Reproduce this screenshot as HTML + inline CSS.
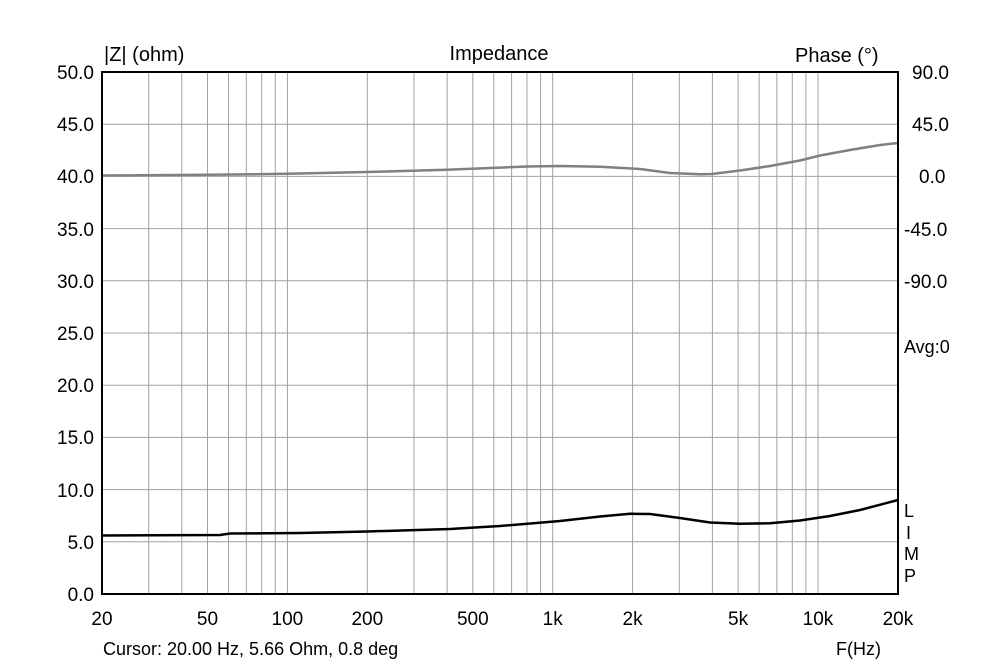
<!DOCTYPE html>
<html><head><meta charset="utf-8"><style>
html,body{margin:0;padding:0;background:#fff;}
svg{display:block;font-family:"Liberation Sans",Arial,sans-serif;}
</style></head><body>
<svg width="1000" height="666" viewBox="0 0 1000 666" xmlns="http://www.w3.org/2000/svg">
<rect width="1000" height="666" fill="#fff"/>
<g stroke="#a0a0a0" stroke-width="1">
<line x1="148.7" y1="72" x2="148.7" y2="594"/><line x1="181.8" y1="72" x2="181.8" y2="594"/>
<line x1="207.5" y1="72" x2="207.5" y2="594"/><line x1="228.5" y1="72" x2="228.5" y2="594"/>
<line x1="246.3" y1="72" x2="246.3" y2="594"/><line x1="261.7" y1="72" x2="261.7" y2="594"/>
<line x1="275.3" y1="72" x2="275.3" y2="594"/><line x1="287.4" y1="72" x2="287.4" y2="594"/>
<line x1="367.3" y1="72" x2="367.3" y2="594"/><line x1="414" y1="72" x2="414" y2="594"/>
<line x1="447.1" y1="72" x2="447.1" y2="594"/><line x1="472.8" y1="72" x2="472.8" y2="594"/>
<line x1="493.8" y1="72" x2="493.8" y2="594"/><line x1="511.6" y1="72" x2="511.6" y2="594"/>
<line x1="527" y1="72" x2="527" y2="594"/><line x1="540.6" y1="72" x2="540.6" y2="594"/>
<line x1="552.7" y1="72" x2="552.7" y2="594"/><line x1="632.6" y1="72" x2="632.6" y2="594"/>
<line x1="679.3" y1="72" x2="679.3" y2="594"/><line x1="712.4" y1="72" x2="712.4" y2="594"/>
<line x1="738.1" y1="72" x2="738.1" y2="594"/><line x1="759.1" y1="72" x2="759.1" y2="594"/>
<line x1="776.9" y1="72" x2="776.9" y2="594"/><line x1="792.3" y1="72" x2="792.3" y2="594"/>
<line x1="805.9" y1="72" x2="805.9" y2="594"/><line x1="818" y1="72" x2="818" y2="594"/>
<line x1="102" y1="124.2" x2="898" y2="124.2"/><line x1="102" y1="176.4" x2="898" y2="176.4"/>
<line x1="102" y1="228.6" x2="898" y2="228.6"/><line x1="102" y1="280.8" x2="898" y2="280.8"/>
<line x1="102" y1="333" x2="898" y2="333"/><line x1="102" y1="385.2" x2="898" y2="385.2"/>
<line x1="102" y1="437.4" x2="898" y2="437.4"/><line x1="102" y1="489.6" x2="898" y2="489.6"/>
<line x1="102" y1="541.8" x2="898" y2="541.8"/>
</g>
<path d="M102,175.5 L207,174.8 L287,173.8 L367,172 L447,169.8 L527,166.5 L560,166 L600,166.8 L640,169 L670,173 L700,174.2 L712,174 L740,170.5 L770,166 L800,160.5 L820,155.5 L850,150 L880,145 L898,143" fill="none" stroke="#808080" stroke-width="2.5"/>
<path d="M102,535.5 L220,535 L230,533.5 L300,533 L367,531.5 L450,529 L500,526 L560,521 L600,516.5 L630,513.8 L650,514 L680,518 L710,522.5 L740,523.8 L770,523.3 L800,520.5 L830,516 L860,510 L898,500" fill="none" stroke="#000" stroke-width="2.5"/>
<rect x="102" y="72" width="796" height="522" fill="none" stroke="#000" stroke-width="2"/>
<g font-size="19" fill="#000" text-anchor="end">
<text x="94" y="79">50.0</text><text x="94" y="131">45.0</text><text x="94" y="183">40.0</text>
<text x="94" y="236">35.0</text><text x="94" y="288">30.0</text><text x="94" y="340">25.0</text>
<text x="94" y="392">20.0</text><text x="94" y="444">15.0</text><text x="94" y="497">10.0</text>
<text x="94" y="549">5.0</text><text x="94" y="601">0.0</text>
</g>
<g font-size="19" fill="#000">
<text x="912" y="79">90.0</text><text x="912" y="131">45.0</text><text x="919" y="183">0.0</text>
<text x="904" y="236">-45.0</text><text x="904" y="288">-90.0</text>
<text x="904" y="353" font-size="18">Avg:0</text>
<text x="904" y="517" font-size="18">L</text><text x="906" y="539" font-size="18">I</text>
<text x="904" y="560" font-size="18">M</text><text x="904" y="582" font-size="18">P</text>
</g>
<g font-size="19" fill="#000" text-anchor="middle">
<text x="102" y="625">20</text><text x="207.5" y="625">50</text><text x="287.4" y="625">100</text>
<text x="367.3" y="625">200</text><text x="472.8" y="625">500</text><text x="552.7" y="625">1k</text>
<text x="632.6" y="625">2k</text><text x="738.1" y="625">5k</text><text x="818" y="625">10k</text>
<text x="897.9" y="625">20k</text>
</g>
<text x="104" y="61" font-size="20">|Z| (ohm)</text>
<text x="499" y="60" font-size="20" text-anchor="middle">Impedance</text>
<text x="795" y="62" font-size="20">Phase (°)</text>
<text x="103" y="655" font-size="18">Cursor: 20.00 Hz, 5.66 Ohm, 0.8 deg</text>
<text x="836" y="655" font-size="18">F(Hz)</text>
</svg>
</body></html>
